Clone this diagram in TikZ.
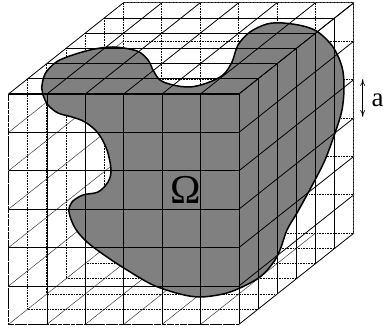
\documentclass[tikz,border=0pt]{standalone}
\usepackage{fontspec}
\setmainfont{Liberation Serif}
\usetikzlibrary{arrows.meta}
\tikzset{
  hidden/.style={line width=0.8pt,dash pattern=on 0.8pt off 0.8pt,black},
  faint/.style={line width=0.55pt,dash pattern=on 1pt off 0.4pt,black!80},
  edgeline/.style={line width=0.8pt,black},
  blob/.style={fill=black!50,draw=black,line width=1.5pt},
  labeltext/.style={inner sep=0pt,text=black}
}
\begin{document}
\begin{tikzpicture}[x=1pt,y=-1pt]
\useasboundingbox (0,0) rectangle (383,328);
\def\xa{8.5}\def\ya{94}\def\st{38.4}\def\dx{19.15}\def\dy{15.2}
% hidden back wall
\foreach \i in {0,...,6}{
  \draw[hidden] ({\xa+6*\dx+\i*\st},{\ya-6*\dy}) -- ({\xa+6*\dx+\i*\st},{\ya-6*\dy+6*\st});
  \draw[hidden] ({\xa+6*\dx},{\ya-6*\dy+\i*\st}) -- ({\xa+6*\dx+6*\st},{\ya-6*\dy+\i*\st});
}
% hidden left wall and floor
\foreach \k in {0,...,5}{
  \draw[hidden] ({\xa+\k*\dx},{\ya-\k*\dy}) -- ({\xa+\k*\dx},{\ya-\k*\dy+6*\st});
  \draw[hidden] ({\xa+\k*\dx},{\ya-\k*\dy+6*\st}) -- ({\xa+\k*\dx+6*\st},{\ya-\k*\dy+6*\st});
}
\foreach \i in {1,...,5}{
  \draw[faint] (\xa,{\ya+\i*\st}) -- ({\xa+6*\dx},{\ya+\i*\st-6*\dy});
}
\foreach \i in {0,...,5}{
  \draw[faint] ({\xa+\i*\st},{\ya+6*\st}) -- ({\xa+\i*\st+6*\dx},{\ya+6*\st-6*\dy});
}
% the domain
\draw[blob] plot[smooth cycle,tension=0.55] coordinates {
 (41.7,88) (45,74) (55,63) (67,57) (90,50) (113,47) (137,51) (148,60) (153,70) (160,80)
 (173,85) (190,87) (207,83) (223,75) (232,62) (238,45) (250,32) (267,24) (283,23) (303,26)
 (318,32) (333,47) (342,67) (344,87) (342,110) (335,133) (325,160) (315,180) (308,193)
 (297,213) (287,230) (280,250) (273,263) (260,277) (240,288) (223,294) (200,297) (180,294)
 (153,285) (127,270) (107,257) (87,242) (75,228) (69,212) (72,202) (83,195) (98,192)
 (108,182) (111,170) (107,150) (98,133) (85,122) (72,117) (58,113) (48,105) (43,95)};
% visible faces
\foreach \i in {1,...,6}{
  \draw[edgeline] ({\xa+\i*\st},\ya) -- ({\xa+\i*\st},{\ya+6*\st});
  \draw[edgeline] (\xa,{\ya+\i*\st-\st}) -- ({\xa+6*\st},{\ya+\i*\st-\st});
  \draw[edgeline] ({\xa+6*\st+\i*\dx},{\ya-\i*\dy}) -- ({\xa+6*\st+\i*\dx},{\ya-\i*\dy+6*\st});
  \draw[edgeline] ({\xa+\i*\dx},{\ya-\i*\dy}) -- ({\xa+\i*\dx+6*\st},{\ya-\i*\dy});
}
\foreach \i in {0,...,6}{
  \draw[edgeline] ({\xa+\i*\st},\ya) -- ({\xa+\i*\st+6*\dx},{\ya-6*\dy});
  \draw[edgeline] ({\xa+6*\st},{\ya+\i*\st}) -- ({\xa+6*\st+6*\dx},{\ya+\i*\st-6*\dy});
}
\draw[line width=1.2pt] (\xa,\ya) -- ({\xa+6*\st},\ya);
\draw[line width=0.9pt,dash pattern=on 0.9pt off 0.4pt,black] (\xa,\ya) -- (\xa,{\ya+6*\st}) -- ({\xa+6*\st},{\ya+6*\st});
\draw[line width=0.9pt,dash pattern=on 0.9pt off 0.5pt,black!75] ({\xa+6*\dx},{\ya-6*\dy}) -- ({\xa+6*\dx+6*\st},{\ya-6*\dy}) -- ({\xa+6*\dx+6*\st},{\ya-6*\dy+6*\st});
% labels
\node[labeltext,font=\fontsize{41}{41}\selectfont,anchor=base] (omega) at (186,204) {Ω};
\node[labeltext,font=\fontsize{27}{27}\selectfont,anchor=base west] (alabel) at (371.5,107) {a};
\coordinate (atop) at (362.7,79);
\coordinate (abot) at (362.7,117);
\draw[{To[length=7pt,width=5pt]}-{To[length=7pt,width=5pt]},line width=0.6pt] (atop) -- (abot);
\end{tikzpicture}
\end{document}
